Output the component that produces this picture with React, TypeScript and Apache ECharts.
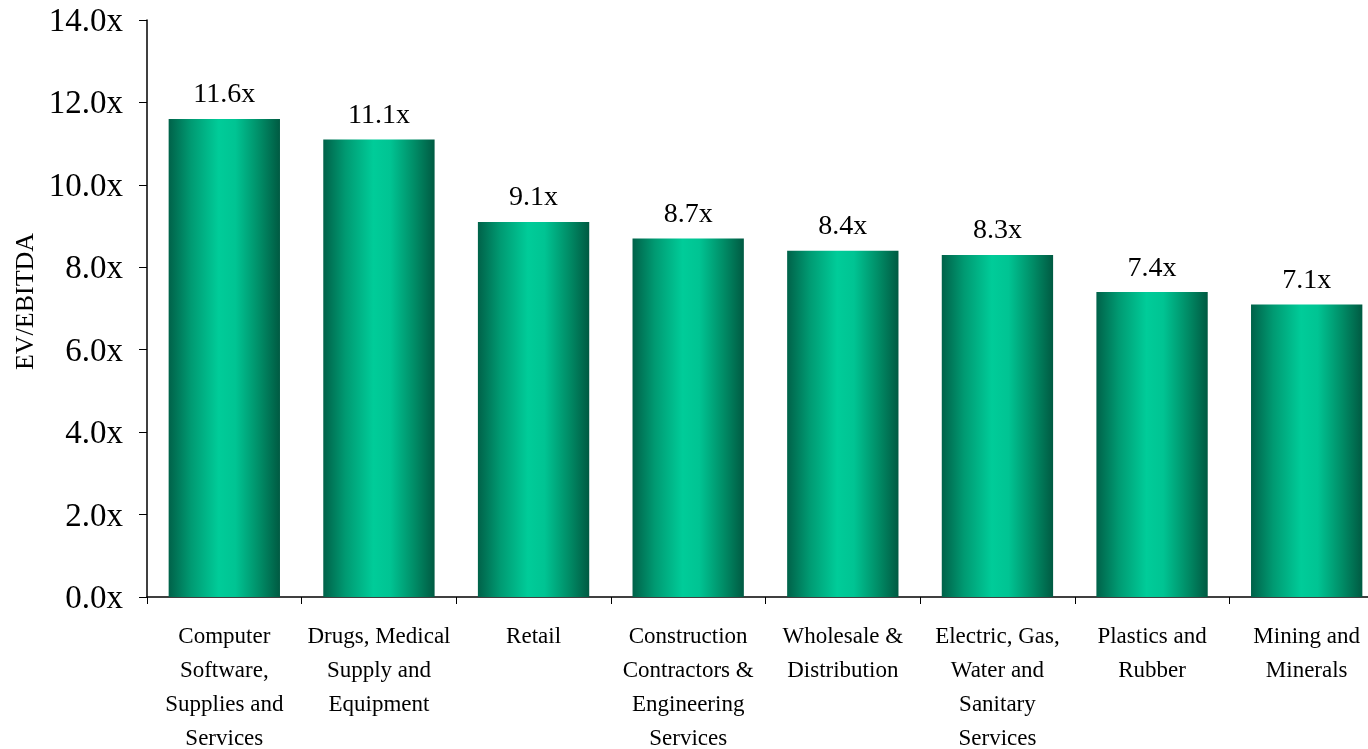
import React, { useEffect, useRef } from "react";
import * as echarts from "echarts";

const categories = [
  "Computer\nSoftware,\nSupplies and\nServices",
  "Drugs, Medical\nSupply and\nEquipment",
  "Retail",
  "Construction\nContractors &\nEngineering\nServices",
  "Wholesale &\nDistribution",
  "Electric, Gas,\nWater and\nSanitary\nServices",
  "Plastics and\nRubber",
  "Mining and\nMinerals",
];
const multiples = [11.6, 11.1, 9.1, 8.7, 8.4, 8.3, 7.4, 7.1];
const yMin = 0;
const yMax = 14;
const yStep = 2;

const FONT = "'Liberation Serif', 'Times New Roman', serif";

export default function App() {
  const ref = useRef<HTMLDivElement>(null);
  useEffect(() => {
    if (!ref.current) return;
    const chart = echarts.init(ref.current, undefined, { renderer: "svg" });
    const barGradient = new echarts.graphic.LinearGradient(0, 0, 1, 0, [
      { offset: 0, color: "#006249" },
      { offset: 0.2, color: "#009a72" },
      { offset: 0.45, color: "#00cc99" },
      { offset: 0.6, color: "#00c493" },
      { offset: 0.82, color: "#008c66" },
      { offset: 1, color: "#005a42" },
    ]);
    chart.setOption({
      animation: false,
      grid: {
        left: 147,
        top: 20,
        bottom: 152,
        width: 1237,
        containLabel: false,
        outerBoundsMode: "none",
      },
      xAxis: {
        type: "category",
        data: categories,
        axisLine: { show: true, lineStyle: { color: "#000", width: 1.5 } },
        axisTick: { show: true, alignWithLabel: false, length: 7, lineStyle: { color: "#000" } },
        axisLabel: {
          interval: 0,
          margin: 21,
          color: "#000",
          fontFamily: FONT,
          fontSize: 23,
          lineHeight: 34,
        },
      },
      yAxis: {
        type: "value",
        min: yMin,
        max: yMax,
        interval: yStep,
        name: "EV/EBITDA",
        nameLocation: "middle",
        nameGap: 109,
        nameRotate: 90,
        nameTextStyle: {
          color: "#000",
          fontFamily: FONT,
          fontSize: 26,
          padding: [0, 0, 0, 14],
        },
        axisLine: { show: true, lineStyle: { color: "#000", width: 1.5 } },
        axisTick: { show: true, length: 8, lineStyle: { color: "#000" } },
        splitLine: { show: false },
        axisLabel: {
          margin: 24,
          color: "#000",
          fontFamily: FONT,
          fontSize: 33,
          formatter: (v: number) => v.toFixed(1) + "x",
        },
      },
      series: [
        {
          type: "bar",
          data: multiples,
          barCategoryGap: "28%",
          itemStyle: { color: barGradient },
          label: {
            show: true,
            position: "top",
            distance: 12,
            color: "#000",
            fontFamily: FONT,
            fontSize: 28,
            formatter: (p: any) => Number(p.value).toFixed(1) + "x",
          },
        },
      ],
    });
    return () => chart.dispose();
  }, []);
  return (
    <div
      ref={ref}
      style={{ position: "fixed", left: 0, top: 0, width: 1368, height: 749, overflow: "hidden" }}
    />
  );
}
